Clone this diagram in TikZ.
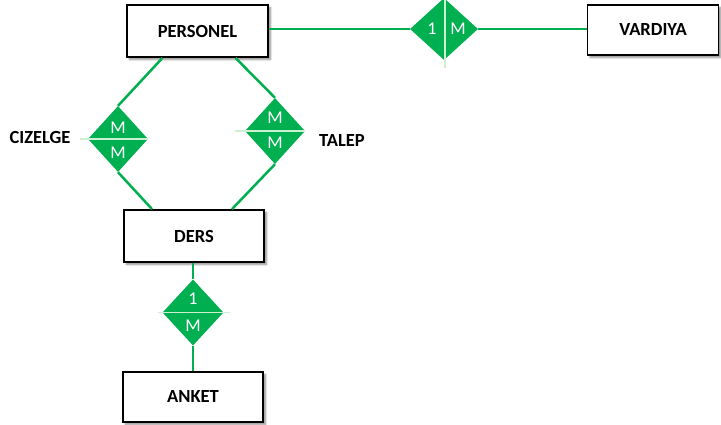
\documentclass[tikz,border=0pt]{standalone}
\usepackage{fontspec}
\setmainfont{Carlito}
\usetikzlibrary{shapes.geometric,shadows.blur}
\definecolor{ergreen}{HTML}{00B050}
\definecolor{divline}{HTML}{CDEFD2}
\begin{document}
\begin{tikzpicture}[x=1pt,y=-1pt,
  entity/.style={draw=black,line width=1.8pt,fill=white,rectangle,inner sep=0pt,
    font=\fontsize{18.5}{22}\selectfont\bfseries,
    blur shadow={shadow xshift=2.5pt,shadow yshift=-2.5pt,shadow blur steps=6,shadow opacity=45}},
  rel/.style={diamond,fill=ergreen,draw=none,inner sep=0pt,minimum width=60pt,minimum height=66pt},
  card/.style={text=white,font=\fontsize{18}{21}\selectfont,inner sep=0pt},
  link/.style={draw=ergreen,line width=2.5pt},
  divider/.style={draw=divline,line width=1.6pt},
  tag/.style={font=\fontsize{18.5}{22}\selectfont\bfseries,inner sep=0pt}]
\useasboundingbox (0,0) rectangle (721,425);

% entities
\node[entity,minimum width=141pt,minimum height=52pt] (personel) at (197.5,31) {PERSONEL};
\node[entity,minimum width=131pt,minimum height=50pt] (vardiya) at (653,30) {VARDIYA};
\node[entity,minimum width=140pt,minimum height=52pt] (ders) at (194,236) {DERS};
\node[entity,minimum width=140pt,minimum height=50pt] (anket) at (193,397) {ANKET};

% relationships
\node[rel,minimum width=68pt,minimum height=62pt] (r1) at (444,29) {};
\node[rel] (cz) at (118,139) {};
\node[rel] (tl) at (275,131) {};
\node[rel,minimum width=61pt] (ak) at (193,312.5) {};

% dividers between cardinalities
\coordinate (r1top) at (445,0);
\coordinate (r1bot) at (445,68);
\draw[divider] (r1top) -- (r1bot);
\coordinate (czl) at (80,139);
\draw[divider] (czl) -- (cz.east);
\coordinate (tll) at (235,131);
\draw[divider] (tll) -- (tl.east);
\coordinate (akl) at (158,312.5);
\coordinate (akr) at (230,312.5);
\draw[divider] (akl) -- (akr);

% cardinality labels
\node[card] (r1a) at (432,29) {1};
\node[card] (r1b) at (458,29) {M};
\node[card] (cza) at (118,128) {M};
\node[card] (czb) at (118,153) {M};
\node[card] (tla) at (275,118) {M};
\node[card] (tlb) at (275,143) {M};
\node[card] (aka) at (193,299) {1};
\node[card] (akb) at (193,326) {M};

% relationship names
\node[tag] (czname) at (40,137) {CIZELGE};
\node[tag] (tlname) at (342,141) {TALEP};

% connectors
\draw[link] (personel.east |- r1.west) -- (r1.west);
\draw[link] (r1.east) -- (vardiya.west |- r1.east);
\draw[link] ([xshift=-35pt]personel.south) -- (cz.north);
\draw[link] (cz.south) -- ([xshift=-42pt]ders.north);
\draw[link] ([xshift=38pt]personel.south) -- (tl.north);
\draw[link] (tl.south) -- ([xshift=38pt]ders.north);
\draw[link] (ders.south -| ak.north) -- (ak.north);
\draw[link] (ak.south) -- (anket.north);
\end{tikzpicture}
\end{document}
